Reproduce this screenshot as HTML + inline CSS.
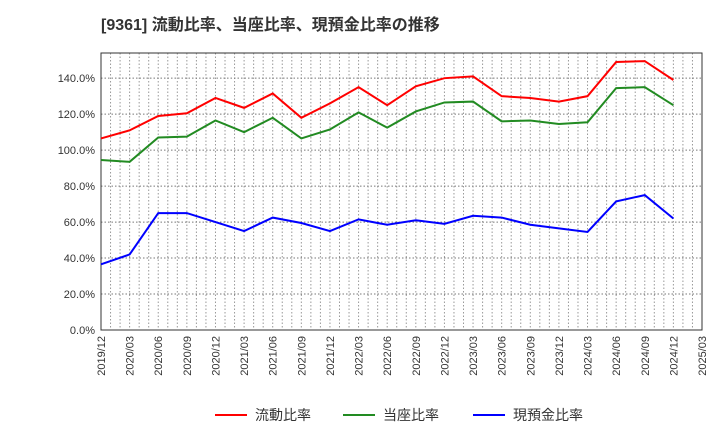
<!DOCTYPE html>
<html><head><meta charset="utf-8"><style>
body{margin:0;background:#fff;font-family:"Liberation Sans","Noto Sans CJK JP",sans-serif;}
svg text{font-family:"Liberation Sans","Noto Sans CJK JP",sans-serif;}
</style></head><body>
<svg id="c" width="720" height="440" xmlns="http://www.w3.org/2000/svg">
<text x="101" y="30" font-size="16" font-weight="bold" fill="#333">[9361]  流動比率、当座比率、現預金比率の推移</text>
<g id="grid"></g><g id="axes"></g><g id="series"></g><g id="legend"></g>
</svg>
<script>
const categories=["2019/12","2020/03","2020/06","2020/09","2020/12","2021/03","2021/06","2021/09","2021/12","2022/03","2022/06","2022/09","2022/12","2023/03","2023/06","2023/09","2023/12","2024/03","2024/06","2024/09","2024/12","2025/03"];
const currentRatio=[106.5,111,119,120.5,129,123.5,131.5,118,126,135,125,135.5,140,141,130,129,127,130,149,149.5,139];
const quickRatio=[94.5,93.5,107,107.5,116.5,110,118,106.5,111.5,121,112.5,121.5,126.5,127,116,116.5,114.5,115.5,134.5,135,125];
const cashRatio=[36.5,42,65,65,60,55,62.5,59.5,55,61.5,58.5,61,59,63.5,62.5,58.5,56.5,54.5,71.5,75,62];
const yTicks=[0,20,40,60,80,100,120,140];
const seriesNames=["流動比率","当座比率","現預金比率"];
const NS="http://www.w3.org/2000/svg";
const L=101,R=702,T=53,B=330,yMax=154;
const x=i=>L+(R-L)*i/(categories.length-1);
const y=v=>B-(B-T)*v/yMax;
function mk(tag,attrs,parent,txt){const e=document.createElementNS(NS,tag);for(const k in attrs)e.setAttribute(k,attrs[k]);if(txt!==undefined)e.textContent=txt;parent.appendChild(e);return e;}
const grid=document.getElementById('grid'),axes=document.getElementById('axes'),ser=document.getElementById('series'),leg=document.getElementById('legend');
for(let m=1;m<(categories.length-1)*3;m++){const xx=L+(R-L)*m/((categories.length-1)*3);
 const g=mk('line',{x1:xx,x2:xx,y1:T,y2:B,stroke:'#999','stroke-dasharray':'1.5,2','stroke-width':1},grid);
 
 }
yTicks.forEach(v=>{
 const g=mk('line',{x1:L,x2:R,y1:y(v),y2:y(v),stroke:'#777','stroke-dasharray':'1.5,2','stroke-width':1},grid);
 
 
 const t=mk('text',{x:L-6,y:y(v)+4,'font-size':11,'text-anchor':'end',fill:'#333'},axes,v.toFixed(1)+'%');
 
 
});
categories.forEach((c,i)=>{
 const t=mk('text',{x:0,y:0,'font-size':11,'text-anchor':'end',fill:'#333',transform:`translate(${x(i)+4},${B+6}) rotate(-90)`},axes,c);
 
 
});
const frame=mk('rect',{x:L,y:T,width:R-L,height:B-T,fill:'none',stroke:'#333','stroke-width':1},axes);


const colors=["#ff0000","#228b22","#0000ff"];
[currentRatio,quickRatio,cashRatio].forEach((d,k)=>{
 const p=mk('polyline',{points:d.map((v,i)=>x(i)+','+y(v)).join(' '),fill:'none',stroke:colors[k],'stroke-width':2},ser);
 
 
});
const lx=[215,343,473];
seriesNames.forEach((n,k)=>{
 const g=mk('g',{},leg);
 
 
 mk('line',{x1:lx[k],x2:lx[k]+32,y1:415,y2:415,stroke:colors[k],'stroke-width':2},g);
 mk('text',{x:lx[k]+40,y:420,'font-size':14,fill:'#333'},g,n);
});
</script>
</body></html>
